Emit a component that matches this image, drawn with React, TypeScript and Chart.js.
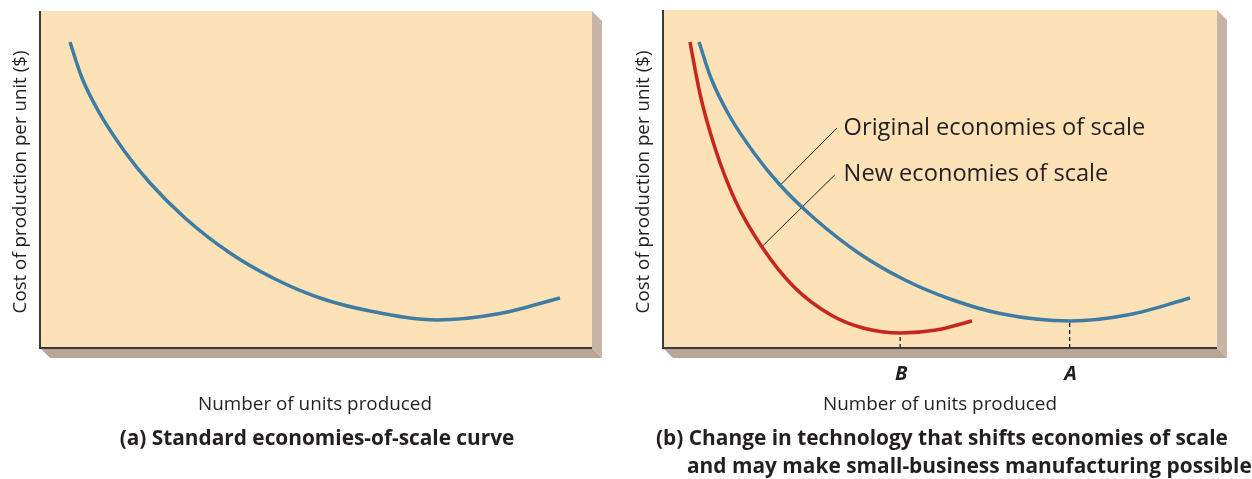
import React, { useEffect, useRef } from "react";
import { Chart, registerables } from "chart.js";

Chart.register(...registerables);

// ---------- data (x = number of units produced, y = cost per unit), 0..100 index scale ----------
const unitsStandard = [5.43, 7.61, 10.87, 15.4, 19.93, 26.27, 34.42, 42.57, 50.72, 59.78, 71.92, 83.33, 94.2];
const costStandard = [90.8, 80.12, 69.44, 58.16, 48.96, 38.58, 28.19, 20.47, 14.84, 10.98, 8.31, 10.24, 14.84];

const unitsOriginal = [6.5, 8.66, 11.91, 16.43, 21.12, 27.44, 35.56, 43.68, 51.81, 60.83, 73.47, 84.3, 95.13];
const costOriginal = [90.53, 79.88, 68.93, 57.69, 48.22, 38.17, 27.81, 20.12, 14.5, 10.21, 7.99, 9.91, 14.79];

const unitsNew = [4.87, 6.68, 9.39, 13.0, 17.87, 23.65, 30.32, 36.1, 42.96, 49.28, 55.78];
const costNew = [90.53, 75.15, 59.17, 43.79, 29.88, 18.05, 9.76, 5.92, 4.44, 5.33, 7.99];

const markerLabels = ["B", "A"];
const markerUnits = [42.8, 73.4];
const markerCost = [4.44, 7.99];

const curveLabels = ["Original economies of scale", "New economies of scale"];
const leaderStartUnits = [21.3, 17.8];
const leaderStartCost = [48.4, 29.9];
const leaderEndUnits = [31.4, 31.0];
const leaderEndCost = [65.1, 51.2];
const curveLabelUnits = [32.6, 32.6];
const curveLabelCost = [65.1, 51.5];

const yTitle = "Cost of production per unit ($)";
const xTitle = "Number of units produced";
const captionA = "(a) Standard economies-of-scale curve";
const captionB = [
  "(b) Change in technology that shifts economies of scale",
  "and may make small-business manufacturing possible",
];

// ---------- styles ----------
const FONT = "'Open Sans', 'Noto Sans', sans-serif";
const PEACH = "#FDE2B7";
const SHADOW_R = "#C6B4A6";
const SHADOW_B = "#B8A594";
const AXIS = "#3a3a3a";
const BLUE = "#3E7CA3";
const RED = "#C7261E";
const INK = "#231F20";

function fitSize(ctx: CanvasRenderingContext2D, text: string, weight: string, style: string, target: number) {
  ctx.font = `${style} ${weight} 100px ${FONT}`;
  const w = ctx.measureText(text).width;
  return (100 * target) / w;
}
function setFont(ctx: CanvasRenderingContext2D, size: number, weight = "normal", style = "normal") {
  ctx.font = `${style} ${weight} ${size}px ${FONT}`;
}

const framePlugin = {
  id: "frame",
  beforeDraw(chart: any) {
    const { ctx } = chart;
    const { left, top, right, bottom } = chart.chartArea;
    const d = 10;
    ctx.save();
    ctx.fillStyle = SHADOW_R;
    ctx.beginPath();
    ctx.moveTo(right, top);
    ctx.lineTo(right + d, top + d);
    ctx.lineTo(right + d, bottom + d);
    ctx.lineTo(right, bottom);
    ctx.closePath();
    ctx.fill();
    ctx.fillStyle = SHADOW_B;
    ctx.beginPath();
    ctx.moveTo(left, bottom);
    ctx.lineTo(right, bottom);
    ctx.lineTo(right + d, bottom + d);
    ctx.lineTo(left + d, bottom + d);
    ctx.closePath();
    ctx.fill();
    ctx.fillStyle = PEACH;
    ctx.fillRect(left, top, right - left, bottom - top);
    ctx.restore();
  },
  afterDatasetsDraw(chart: any) {
    const { ctx } = chart;
    const { left, top, right, bottom } = chart.chartArea;
    ctx.save();
    ctx.strokeStyle = AXIS;
    ctx.lineWidth = 2;
    ctx.beginPath();
    ctx.moveTo(left, top);
    ctx.lineTo(left, bottom);
    ctx.lineTo(right, bottom);
    ctx.stroke();
    ctx.restore();
  },
};

function drawAxisTitles(ctx: CanvasRenderingContext2D, yx: number, yy: number, xx: number, xy: number) {
  ctx.fillStyle = INK;
  ctx.textBaseline = "middle";
  ctx.textAlign = "center";
  const ys = fitSize(ctx, yTitle, "normal", "normal", 263);
  setFont(ctx, ys);
  ctx.save();
  ctx.translate(yx, yy);
  ctx.rotate(-Math.PI / 2);
  ctx.fillText(yTitle, 0, 0);
  ctx.restore();
  const xs = fitSize(ctx, xTitle, "normal", "normal", 234);
  setFont(ctx, xs);
  ctx.fillText(xTitle, xx, xy);
}

const textPluginA = {
  id: "textA",
  afterDraw(chart: any) {
    const { ctx } = chart;
    ctx.save();
    drawAxisTitles(ctx, 21, 182, 315, 405);
    const cs = fitSize(ctx, captionA, "bold", "normal", 395);
    setFont(ctx, cs, "bold");
    ctx.textAlign = "center";
    ctx.fillText(captionA, 317, 439);
    ctx.restore();
  },
};

const textPluginB = {
  id: "textB",
  afterDraw(chart: any) {
    const { ctx } = chart;
    const xs = chart.scales.x;
    const ys = chart.scales.y;
    ctx.save();
    drawAxisTitles(ctx, 18, 182, 314, 405);
    const ls = fitSize(ctx, curveLabels[0], "normal", "normal", 302);
    setFont(ctx, ls);
    ctx.textAlign = "left";
    ctx.textBaseline = "middle";
    curveLabels.forEach((t, i) => {
      ctx.fillText(t, xs.getPixelForValue(curveLabelUnits[i]), ys.getPixelForValue(curveLabelCost[i]));
    });
    setFont(ctx, 20, "bold", "italic");
    ctx.textAlign = "center";
    markerLabels.forEach((t, i) => {
      ctx.fillText(t, xs.getPixelForValue(markerUnits[i]) + 1, 374);
    });
    const cs = fitSize(ctx, captionB[0], "bold", "normal", 572);
    setFont(ctx, cs, "bold");
    ctx.textAlign = "left";
    ctx.fillText(captionB[0], 30, 439);
    ctx.fillText(captionB[1], 61, 467);
    ctx.restore();
  },
};

function pts(xs: number[], ys: number[]) {
  return xs.map((x, i) => ({ x, y: ys[i] }));
}

function curve(label: string, xs: number[], ys: number[], color: string) {
  return {
    label,
    data: pts(xs, ys),
    borderColor: color,
    borderWidth: 3.5,
    cubicInterpolationMode: "monotone" as const,
    pointRadius: 0,
    fill: false,
  };
}

function segment(label: string, x0: number, y0: number, x1: number, y1: number, width: number, dash: number[]) {
  return {
    label,
    data: [
      { x: x0, y: y0 },
      { x: x1, y: y1 },
    ],
    borderColor: "#1a1a1a",
    borderWidth: width,
    borderDash: dash,
    tension: 0,
    pointRadius: 0,
    fill: false,
  };
}

function makeChart(canvas: HTMLCanvasElement, datasets: any[], padding: any, textPlugin: any) {
  return new Chart(canvas, {
    type: "line",
    data: { datasets },
    options: {
      responsive: false,
      animation: false,
      events: [],
      layout: { padding },
      plugins: {
        legend: { display: false },
        tooltip: { enabled: false },
        title: { display: false },
      },
      scales: {
        x: { type: "linear", min: 0, max: 100, display: false },
        y: { type: "linear", min: 0, max: 100, display: false },
      },
      elements: { point: { radius: 0 } },
    },
    plugins: [framePlugin, textPlugin],
  } as any);
}

export default function App() {
  const refA = useRef<HTMLCanvasElement>(null);
  const refB = useRef<HTMLCanvasElement>(null);

  useEffect(() => {
    const chartA = makeChart(
      refA.current!,
      [curve("Standard economies of scale", unitsStandard, costStandard, BLUE)],
      { left: 40, top: 11, right: 34, bottom: 131 },
      textPluginA
    );
    const dsB: any[] = [
      curve("Original economies of scale", unitsOriginal, costOriginal, BLUE),
      curve("New economies of scale", unitsNew, costNew, RED),
    ];
    markerLabels.forEach((m, i) => {
      dsB.push(segment(m, markerUnits[i], 0, markerUnits[i], markerCost[i], 1.3, [4, 3]));
    });
    curveLabels.forEach((l, i) => {
      dsB.push(segment(l + " leader", leaderStartUnits[i], leaderStartCost[i], leaderEndUnits[i], leaderEndCost[i], 1, []));
    });
    const chartB = makeChart(refB.current!, dsB, { left: 37, top: 10, right: 35, bottom: 131 }, textPluginB);
    return () => {
      chartA.destroy();
      chartB.destroy();
    };
  }, []);

  return (
    <div style={{ position: "absolute", left: 0, top: 0, width: 1252, height: 479, background: "#ffffff" }}>
      <canvas ref={refA} width={626} height={479} style={{ position: "absolute", left: 0, top: 0 }} />
      <canvas ref={refB} width={626} height={479} style={{ position: "absolute", left: 626, top: 0 }} />
    </div>
  );
}
